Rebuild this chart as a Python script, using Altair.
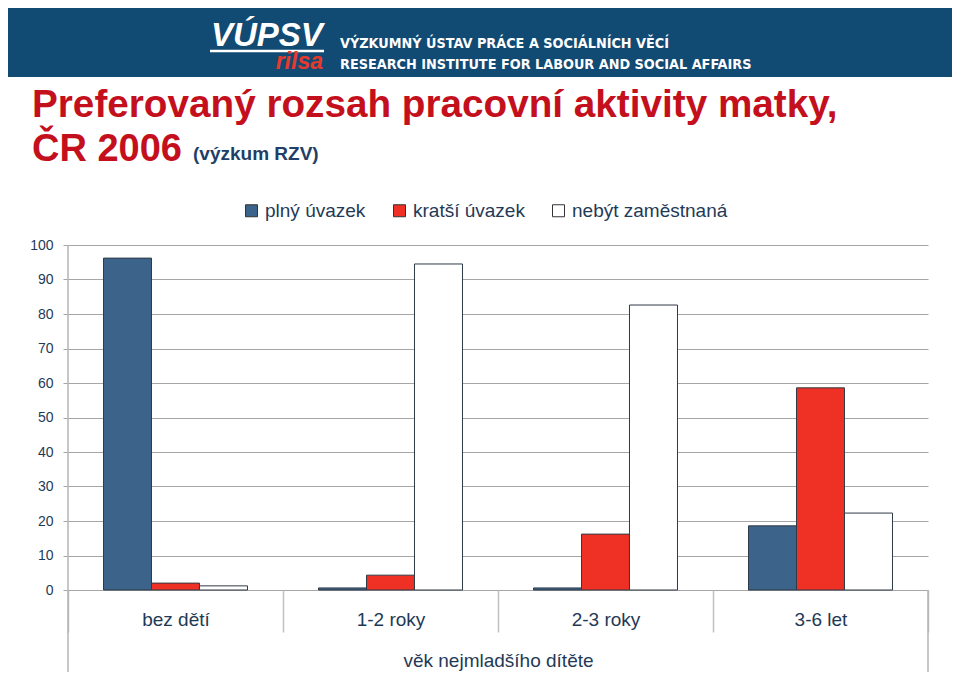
import altair as alt
import pandas as pd

# ---- data ----
categories = ["bez dětí", "1-2 roky", "2-3 roky", "3-6 let"]
series = ["plný úvazek", "kratší úvazek", "nebýt zaměstnaná"]
plny_uvazek = [96.2, 0.6, 0.6, 18.6]
kratsi_uvazek = [2.0, 4.3, 16.2, 58.6]
nebyt_zamestnana = [1.2, 94.5, 82.6, 22.3]
y_ticks = [0, 10, 20, 30, 40, 50, 60, 70, 80, 90, 100]

title_line1 = ["Preferovaný rozsah pracovní aktivity matky,"]
title_line2 = ["ČR 2006"]
subtitle = ["(výzkum RZV)"]
header_cz = ["VÝZKUMNÝ ÚSTAV PRÁCE A SOCIÁLNÍCH VĚCÍ"]
header_en = ["RESEARCH INSTITUTE FOR LABOUR AND SOCIAL AFFAIRS"]
logo_top = ["VÚPSV"]
logo_bottom = ["rilsa"]
x_title = "věk nejmladšího dítěte"

colors = ["#3c6389", "#ee3124", "#ffffff"]
text_color = "#1f3a56"
font = "Liberation Sans, Arial, sans-serif"
narrow = "Liberation Sans Narrow, DejaVu Sans Condensed, sans-serif"

rows = []
for s, vals in zip(series, [plny_uvazek, kratsi_uvazek, nebyt_zamestnana]):
    for c, v in zip(categories, vals):
        rows.append({"kat": c, "ser": s, "val": v})
df = pd.DataFrame(rows)

W, H = 860, 345

bars = alt.Chart(df).mark_bar(stroke="#2f3b47", strokeWidth=1).encode(
    x=alt.X(
        "kat:N",
        sort=categories,
        scale=alt.Scale(paddingInner=0, paddingOuter=0),
        axis=alt.Axis(
            title=x_title,
            labelAngle=0,
            tickBand="extent",
            tickSize=42,
            tickColor="#c0c0c0",
            tickWidth=1.5,
            domain=False,
            labelFontSize=19,
            labelPadding=-22,
            labelColor=text_color,
            labelFont=font,
            titleFont=font,
            titleFontSize=19,
            titleFontWeight="normal",
            titleColor=text_color,
            titleY=70,
            titleBaseline="middle",
        ),
    ),
    xOffset=alt.XOffset("ser:N", sort=series,
                        scale=alt.Scale(paddingOuter=0.74, paddingInner=0)),
    y=alt.Y(
        "val:Q",
        scale=alt.Scale(domain=[0, 100]),
        axis=alt.Axis(
            values=y_ticks,
            title=None,
            grid=True,
            gridColor="#a6a6a6",
            gridWidth=1.2,
            domain=False,
            tickColor="#a6a6a6",
            tickSize=5,
            labelPadding=10,
            labelFontSize=14,
            labelColor=text_color,
            labelFont=font,
        ),
    ),
    color=alt.Color(
        "ser:N",
        sort=series,
        scale=alt.Scale(domain=series, range=colors),
        legend=alt.Legend(
            title=None,
            orient="none",
            legendX=174,
            legendY=-44,
            direction="horizontal",
            symbolType="square",
            symbolSize=144,
            symbolStrokeColor="#333333",
            symbolStrokeWidth=1,
            symbolOpacity=1,
            labelFontSize=19,
            labelFont=font,
            labelColor=text_color,
            columnPadding=24,
            labelOffset=4,
            padding=0,
        ),
    ),
)

# decorative axis frame lines
frame_left = alt.Chart(pd.DataFrame({"a": [0]})).mark_rule(color="#b5b5b5", strokeWidth=1.5).encode(
    x=alt.value(0), y=alt.value(0), y2=alt.value(427))
frame_right = alt.Chart(pd.DataFrame({"a": [0]})).mark_rule(color="#b5b5b5", strokeWidth=1.5).encode(
    x=alt.value(W), y=alt.value(H), y2=alt.value(427))

# header banner
banner = alt.Chart(pd.DataFrame({"a": [0]})).mark_rect(color="#114a72").encode(
    x=alt.value(-60), x2=alt.value(884), y=alt.value(-241), y2=alt.value(-168))

logo1 = alt.Chart(pd.DataFrame({"t": logo_top})).mark_text(
    font=font, fontSize=33, fontWeight="bold", fontStyle="italic", color="white",
    align="left", baseline="alphabetic").encode(
    text="t:N", x=alt.value(143), y=alt.value(-199))
logo_line = alt.Chart(pd.DataFrame({"a": [0]})).mark_rule(color="white", strokeWidth=2.5).encode(
    x=alt.value(142), x2=alt.value(256), y=alt.value(-194))
logo2 = alt.Chart(pd.DataFrame({"t": logo_bottom})).mark_text(
    font=font, fontSize=23, fontWeight="bold", fontStyle="italic", color="#e8392e",
    align="right", baseline="alphabetic").encode(
    text="t:N", x=alt.value(255), y=alt.value(-176))

head1 = alt.Chart(pd.DataFrame({"t": header_cz})).mark_text(
    font=narrow, fontSize=14.3, fontWeight="bold", color="white",
    align="left", baseline="alphabetic").encode(
    text="t:N", x=alt.value(272), y=alt.value(-197))
head2 = alt.Chart(pd.DataFrame({"t": header_en})).mark_text(
    font=narrow, fontSize=14.3, fontWeight="bold", color="white",
    align="left", baseline="alphabetic").encode(
    text="t:N", x=alt.value(272), y=alt.value(-176))

t1 = alt.Chart(pd.DataFrame({"t": title_line1})).mark_text(
    font=font, fontSize=38.7, fontWeight="bold", color="#c4101c",
    align="left", baseline="alphabetic").encode(
    text="t:N", x=alt.value(-36), y=alt.value(-128))
t2 = alt.Chart(pd.DataFrame({"t": title_line2})).mark_text(
    font=font, fontSize=38, fontWeight="bold", color="#c4101c",
    align="left", baseline="alphabetic").encode(
    text="t:N", x=alt.value(-36), y=alt.value(-84))
t3 = alt.Chart(pd.DataFrame({"t": subtitle})).mark_text(
    font=font, fontSize=19, fontWeight="bold", color="#1f3f66",
    align="left", baseline="alphabetic").encode(
    text="t:N", x=alt.value(125), y=alt.value(-85))

chart = alt.layer(
    banner, logo1, logo_line, logo2, head1, head2, t1, t2, t3,
    bars, frame_left, frame_right,
).properties(
    width=W,
    height=H,
    autosize=alt.AutoSizeParams(type="none"),
    padding={"left": 60, "top": 237, "right": 24, "bottom": 84},
).configure_view(stroke=None)

chart.save("out.html", embed_options={"renderer": "svg", "actions": False})
